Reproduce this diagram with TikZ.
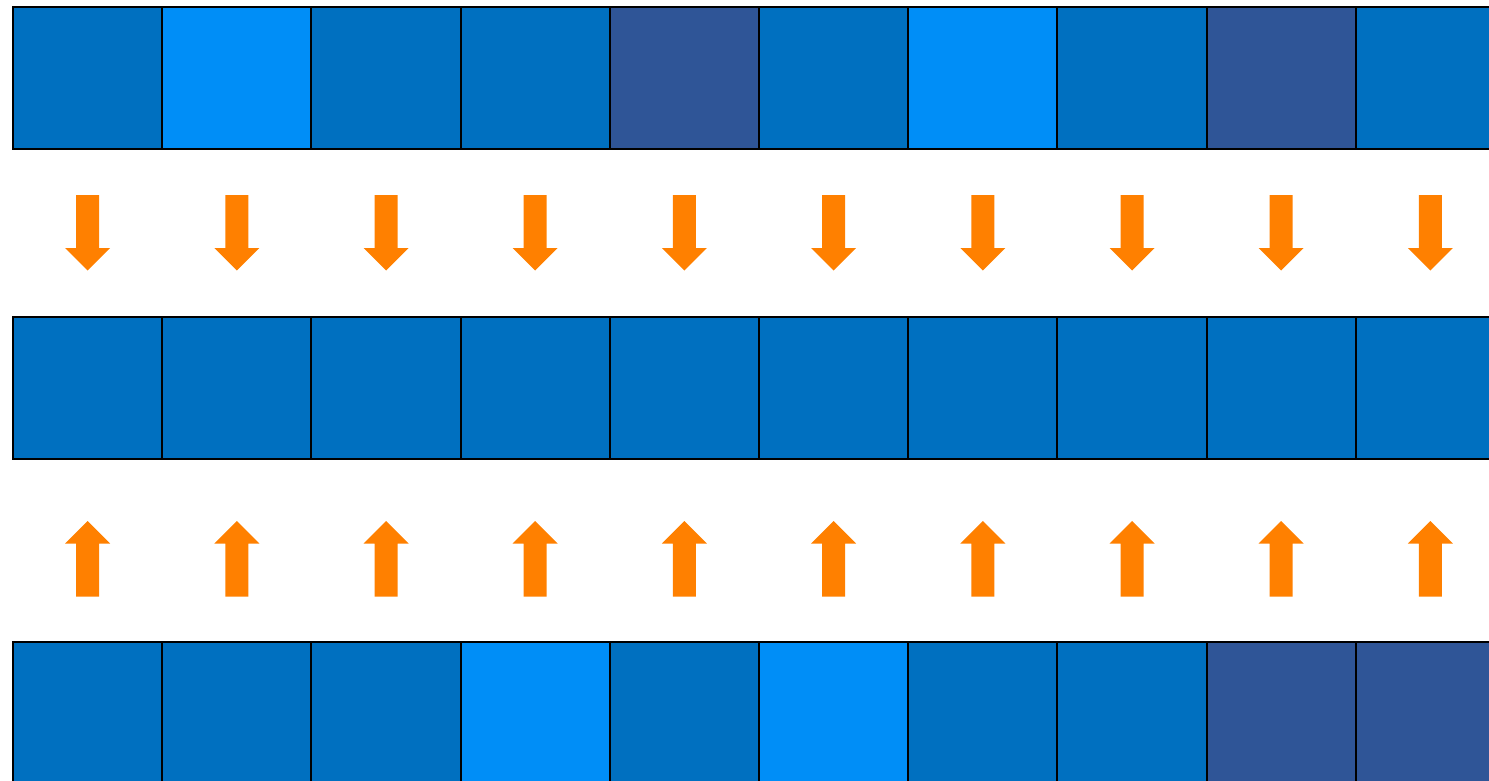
\documentclass[tikz,border=0pt]{standalone}
\usetikzlibrary{calc}
\definecolor{cellmid}{HTML}{0070C0}
\definecolor{celllight}{HTML}{008EF7}
\definecolor{celldark}{HTML}{2F5597}
\definecolor{arroworange}{HTML}{FF8000}
\begin{document}
\begin{tikzpicture}[x=1pt,y=1pt,
  cell/.style={draw=black,line width=2pt,inner sep=0pt,outer sep=0pt,
    minimum width=149.2pt,minimum height=142.5pt,anchor=north west},
  M/.style={cell,fill=cellmid},
  L/.style={cell,fill=celllight},
  D/.style={cell,fill=celldark},
  blockarrow/.pic={\fill[arroworange] (-11.5,0) -- (11.5,0) -- (11.5,-53)
     -- (22.5,-53) -- (0,-75.5) -- (-22.5,-53) -- (-11.5,-53) -- cycle;}
]
\useasboundingbox (0,0) rectangle (1489,-781);
% top row
\foreach \c [count=\i from 0] in {M,L,M,M,D,M,L,M,D,M}
  \node[\c] (t\i) at (13+149.2*\i,-7) {};
% middle row
\foreach \c [count=\i from 0] in {M,M,M,M,M,M,M,M,M,M}
  \node[\c] (m\i) at (13+149.2*\i,-316.5) {};
% bottom row
\foreach \c [count=\i from 0] in {M,M,M,L,M,L,M,M,D,D}
  \node[\c] (b\i) at (13+149.2*\i,-641.5) {};
% downward arrows from top row to middle row, upward arrows from bottom row
\foreach \i in {0,...,9}{
  \pic at ($(t\i.south)+(0,-45.5)$) {blockarrow};
  \pic[rotate=180] at ($(b\i.north)+(0,45)$) {blockarrow};
}
\end{tikzpicture}
\end{document}
